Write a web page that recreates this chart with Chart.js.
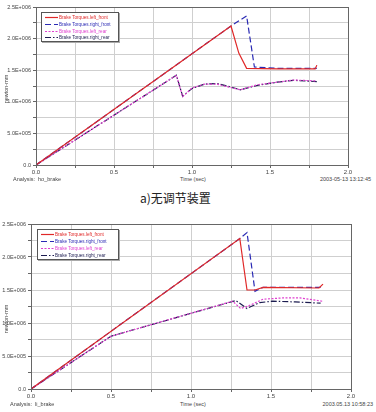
<!DOCTYPE html>
<html><head><meta charset="utf-8">
<script src="https://cdn.jsdelivr.net/npm/chart.js@4/dist/chart.umd.min.js"></script>
<style>
html,body{margin:0;padding:0;background:#fff;}
body{width:376px;height:412px;position:relative;overflow:hidden;font-family:"Liberation Sans",Arial,sans-serif;}
canvas{position:absolute;left:0;}
.t{position:absolute;font-size:5.5px;color:#444;white-space:nowrap;line-height:6px;}
.yl{position:absolute;font-size:5.5px;color:#444;white-space:nowrap;transform:rotate(-90deg);transform-origin:center;line-height:6px;}
.cap{position:absolute;font-family:"Noto Sans CJK SC",sans-serif;font-size:12px;color:#222;white-space:nowrap;line-height:14px;}
.leg{position:absolute;background:#fff;border:1px solid #555;box-shadow:1px 1px 0 #aaa;}
.li{position:absolute;left:2px;height:7px;font-size:5px;line-height:7px;white-space:nowrap;}
.li svg{position:absolute;left:0;top:0;}
.li span{position:absolute;left:15px;top:0;transform:scaleX(0.92);transform-origin:left center;}
</style></head>
<body>
<canvas id="c1" width="376" height="176" style="top:0"></canvas>
<canvas id="c2" width="376" height="186" style="top:214px"></canvas>

<div class="yl" style="left:-8px;top:86px;">newton-mm</div>
<div class="t" style="left:13px;top:176px;">Analysis:&nbsp; ho_brake</div>
<div class="t" style="left:180px;top:176px;">Time (sec)</div>
<div class="t" style="right:5px;top:176px;">2003-05-13 13:12:45</div>
<div class="cap" style="left:140px;top:191px;">a)无调节装置</div>

<div class="yl" style="left:-8px;top:316px;">newton-mm</div>
<div class="t" style="left:10px;top:401px;">Analysis:&nbsp; li_brake</div>
<div class="t" style="left:180px;top:401px;">Time (sec)</div>
<div class="t" style="right:3px;top:401px;">2003.05.13 10:58:23</div>

<div id="leg1" class="leg" style="left:41px;top:12px;width:76px;height:28px;"></div>
<div id="leg2" class="leg" style="left:37px;top:229px;width:80px;height:29px;"></div>

<script>
// ---- data: chart a) (no adjusting device) ----
const seriesNames = ["Brake Torques.left_front","Brake Torques.right_front","Brake Torques.left_rear","Brake Torques.right_rear"];
const xTickLabels = ["0.0","0.5","1.0","1.5","2.0"];

const a_leftFront_t  = [0, 1.25, 1.30, 1.35, 1.55, 1.79, 1.80];
const a_leftFront_v  = [0, 2.20e6, 1.77e6, 1.53e6, 1.52e6, 1.52e6, 1.58e6];
const a_rightFront_t = [0, 1.25, 1.35, 1.40, 1.55, 1.80];
const a_rightFront_v = [0, 2.20e6, 2.36e6, 1.55e6, 1.53e6, 1.53e6];
const a_leftRear_t   = [0, 0.90, 0.94, 1.00, 1.08, 1.16, 1.24, 1.31, 1.42, 1.545, 1.65, 1.80];
const a_leftRear_v   = [0, 1.42e6, 1.08e6, 1.22e6, 1.28e6, 1.28e6, 1.23e6, 1.19e6, 1.27e6, 1.31e6, 1.345e6, 1.33e6];
const a_rightRear_t  = [0, 0.90, 0.94, 1.00, 1.08, 1.16, 1.24, 1.31, 1.42, 1.545, 1.65, 1.80];
const a_rightRear_v  = [0, 1.42e6, 1.09e6, 1.21e6, 1.28e6, 1.29e6, 1.24e6, 1.19e6, 1.26e6, 1.31e6, 1.34e6, 1.32e6];

// ---- data: chart b) ----
const b_leftFront_t  = [0, 1.305, 1.35, 1.40, 1.45, 1.80, 1.825];
const b_leftFront_v  = [0, 2.28e6, 1.50e6, 1.50e6, 1.54e6, 1.53e6, 1.59e6];
const b_rightFront_t = [0, 1.305, 1.35, 1.40, 1.45, 1.81];
const b_rightFront_v = [0, 2.28e6, 2.37e6, 1.48e6, 1.54e6, 1.54e6];
const b_leftRear_t   = [0, 0.50, 1.26, 1.31, 1.36, 1.45, 1.575, 1.68, 1.82];
const b_leftRear_v   = [0, 0.80e6, 1.33e6, 1.22e6, 1.26e6, 1.36e6, 1.38e6, 1.38e6, 1.33e6];
const b_rightRear_t  = [0, 0.50, 1.28, 1.35, 1.43, 1.51, 1.65, 1.81];
const b_rightRear_v  = [0, 0.80e6, 1.34e6, 1.22e6, 1.31e6, 1.33e6, 1.32e6, 1.30e6];

const colors = ["#e02828","#2a2ab4","#e040d0","#1c1c50"];
const dashes = [[], [6,3], [2,1.5], [6,2,1.5,2]];

function pts(t, v){ return t.map((x,i)=>({x:x, y:v[i]})); }
function fmtE(v){
  if (Math.abs(v) < 1) return "0.0";
  const e = Math.floor(Math.log10(v) + 1e-9);
  const m = v / Math.pow(10, e);
  return m.toFixed(1) + "E+" + String(e).padStart(3, "0");
}

const frame = {
  id:'frame',
  afterDraw(chart){
    const a = chart.chartArea, c = chart.ctx;
    c.save(); c.strokeStyle = '#666'; c.lineWidth = 1;
    c.strokeRect(Math.round(a.left)+0.5, Math.round(a.top)+0.5, Math.round(a.right-a.left), Math.round(a.bottom-a.top));
    c.restore();
  }
};

function makeChart(id, sets, yw, padR, padT){
  const ds = sets.map((s,i)=>({
    label: seriesNames[i], data: pts(s[0], s[1]),
    borderColor: colors[i], borderWidth: 1.2, borderDash: dashes[i],
    pointRadius: 0, tension: 0, fill: false
  }));
  return new Chart(document.getElementById(id), {
    type: 'line',
    data: { datasets: ds },
    options: {
      responsive: false, animation: false, devicePixelRatio: 1,
      layout: { padding: { left: 0, right: padR, top: padT, bottom: 0 } },
      plugins: { legend: { display: false }, tooltip: { enabled: false } },
      scales: {
        x: {
          type: 'linear', min: 0, max: 2,
          afterFit: s => { s.height = 11; },
          grid: { color: '#cfcfcf', lineWidth: 1, tickLength: 3, tickColor: '#666' },
          border: { color: '#666' },
          ticks: { stepSize: 0.25, maxRotation: 0, autoSkip: false, padding: 1,
            color: '#444', font: { size: 6, family: 'Liberation Sans' },
            callback: v => { const k = Math.round(v / 0.25); return k % 2 === 0 ? xTickLabels[k/2] : ''; } }
        },
        y: {
          min: 0, max: 2.5e6,
          afterFit: s => { s.width = yw; },
          grid: { color: '#cfcfcf', lineWidth: 1, tickLength: 3, tickColor: '#666' },
          border: { color: '#666' },
          ticks: { stepSize: 0.25e6, autoSkip: false, padding: 2,
            color: '#444', font: { size: 5.5, family: 'Liberation Sans' },
            callback: v => { const k = Math.round(v / 0.25e6); return k % 2 === 0 ? fmtE(v) : ''; } }
        }
      }
    },
    plugins: [frame]
  });
}

makeChart('c1', [
  [a_leftFront_t, a_leftFront_v], [a_rightFront_t, a_rightFront_v],
  [a_leftRear_t, a_leftRear_v], [a_rightRear_t, a_rightRear_v]
], 36, 28, 7);
makeChart('c2', [
  [b_leftFront_t, b_leftFront_v], [b_rightFront_t, b_rightFront_v],
  [b_leftRear_t, b_leftRear_v], [b_rightRear_t, b_rightRear_v]
], 31, 25, 10);

function buildLegend(id, gap){
  const el = document.getElementById(id);
  seriesNames.forEach((n,i)=>{
    const d = document.createElement('div');
    d.className = 'li';
    d.style.top = (1 + i*gap) + 'px';
    d.style.color = colors[i];
    d.innerHTML = '<svg width="15" height="7"><line x1="1" y1="3.5" x2="14" y2="3.5" stroke="'+colors[i]+
      '" stroke-width="1.2" stroke-dasharray="'+(dashes[i].length?dashes[i].join(','):'none')+'"/></svg><span>'+n+'</span>';
    el.appendChild(d);
  });
}
buildLegend('leg1', 6.8);
buildLegend('leg2', 7);
</script>
</body></html>
